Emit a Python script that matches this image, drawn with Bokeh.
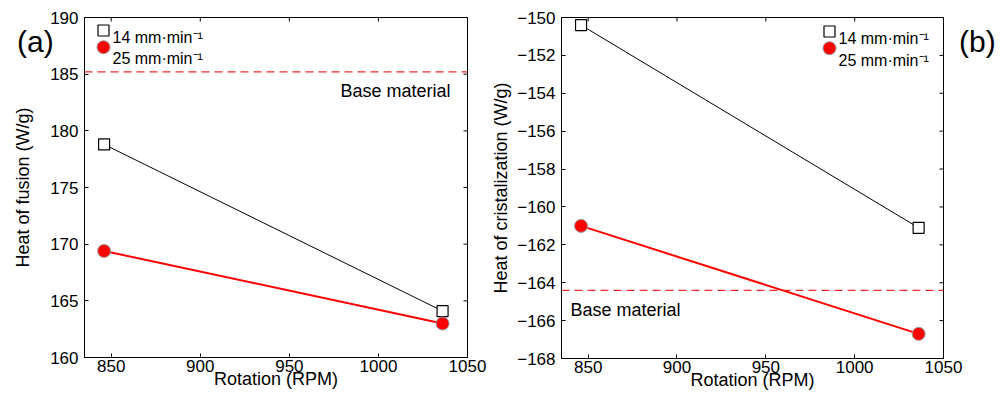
import math
from bokeh.plotting import figure
from bokeh.models import Range1d, FixedTicker, Span, Label, Div
from bokeh.layouts import row
from bokeh.embed import file_html
from bokeh.resources import INLINE

# ---------------- data ----------------
rotation = [846, 1036]
fusion_14 = [178.8, 164.1]
fusion_25 = [169.4, 163.0]
cryst_14 = [-150.4, -161.1]
cryst_25 = [-161.0, -166.7]
base_fusion = 185.2
base_cryst = -164.4
x_ticks = [850, 900, 950, 1000, 1050]
fusion_ticks = [160, 165, 170, 175, 180, 185, 190]
cryst_ticks = [-168, -166, -164, -162, -160, -158, -156, -154, -152, -150]
series_labels = ["14 mm\u00b7min\u207b\u00b9", "25 mm\u00b7min\u207b\u00b9"]

FONT = "Liberation Sans"
X0, X1 = 835, 1050


def style_axis(ax, ticks):
    ax.ticker = FixedTicker(ticks=ticks)
    ax.major_tick_in = 4
    ax.major_tick_out = 0
    ax.minor_tick_line_color = None
    ax.axis_line_color = "black"
    ax.major_tick_line_color = "black"
    ax.major_label_text_font = FONT
    ax.major_label_text_font_size = "17px"
    ax.major_label_text_color = "black"
    ax.axis_label_text_font = FONT
    ax.axis_label_text_font_size = "18px"
    ax.axis_label_text_font_style = "normal"
    ax.axis_label_text_color = "black"


def make_panel(y0, y1, yticks, d14, d25, base, ylabel, fw, fh, bl, br, bt, bb, axstand):
    p = figure(output_backend="svg", toolbar_location=None,
               x_range=Range1d(X0, X1), y_range=Range1d(y0, y1),
               frame_width=fw, frame_height=fh,
               min_border_left=bl, min_border_right=br,
               min_border_top=bt, min_border_bottom=bb)
    p.xgrid.visible = False
    p.ygrid.visible = False
    p.outline_line_color = "black"
    p.background_fill_color = "white"
    p.border_fill_color = "white"
    style_axis(p.xaxis[0], x_ticks)
    p.xaxis[0].major_label_standoff = 2
    p.xaxis[0].axis_label = "Rotation (RPM)"
    p.xaxis[0].axis_label_standoff = -6
    style_axis(p.yaxis[0], yticks)
    p.yaxis[0].major_label_standoff = 6
    p.yaxis[0].axis_label = ylabel
    p.yaxis[0].axis_label_standoff = axstand
    p.yaxis[0].major_label_overrides = {t: str(t).replace("-", "\u2212") for t in yticks}

    # inward ticks on the top and right edges of the box
    p.ray(x=x_ticks, y=[y1] * len(x_ticks), length=4, length_units="screen",
          angle=-math.pi / 2, line_color="black", line_width=1)
    p.ray(x=[X1] * len(yticks), y=yticks, length=4, length_units="screen",
          angle=math.pi, line_color="black", line_width=1)

    p.add_layout(Span(location=base, dimension="width", line_color="#ee2a2a",
                      line_dash="8 5", line_width=1.3))
    p.line(rotation, d14, line_color="black", line_width=1)
    p.line(rotation, d25, line_color="#ff0000", line_width=2)
    p.scatter(rotation, d14, marker="square", size=11, fill_color="white",
              line_color="black", line_width=1.2)
    p.scatter(rotation, d25, marker="circle", size=13, fill_color="#ff0000",
              line_color="#9a9a9a", line_width=1)
    return p


def legend(p, fw, fh, y0, y1, dx, dy_sq, dy_ci, dy_t1, dy_t2):
    xpu = fw / (X1 - X0)
    ypu = fh / (y1 - y0)
    mx = X0 + dx / xpu
    p.scatter([mx], [y1 - dy_sq / ypu], marker="square", size=11,
              fill_color="white", line_color="black", line_width=1.2)
    p.scatter([mx], [y1 - dy_ci / ypu], marker="circle", size=13,
              fill_color="#ff0000", line_color="#9a9a9a", line_width=1)
    for lab, dyt in zip(series_labels, [dy_t1, dy_t2]):
        p.add_layout(Label(x=mx, y=y1, x_offset=9, y_offset=-dyt, text=lab,
                           text_baseline="alphabetic", text_font=FONT,
                           text_font_size="16px", text_color="black"))


def panel_tag(text, left, top):
    return Div(text=text, width=50, height=40,
               styles={"position": "absolute", "left": f"{left}px",
                       "top": f"{top}px", "font-family": FONT,
                       "font-size": "30px", "line-height": "30px",
                       "color": "black"})


# ---------------- panel (a) ----------------
pa = make_panel(160, 190, fusion_ticks, fusion_14, fusion_25, base_fusion,
                "Heat of fusion (W/g)", 383, 340, 84, 20, 16, 37, 14)
legend(pa, 383, 340, 160, 190, 19, 13, 29.7, 20, 41)
pa.add_layout(Label(x=X1, y=base_fusion, x_offset=-17, y_offset=-19,
                    text="Base material", text_align="right",
                    text_baseline="alphabetic", text_font=FONT,
                    text_font_size="18px", text_color="black"))

# ---------------- panel (b) ----------------
pb = make_panel(-168, -150, cryst_ticks, cryst_14, cryst_25, base_cryst,
                "Heat of cristalization (W/g)", 382, 341, 74, 55, 17, 35, 3)
legend(pb, 382, 341, -168, -150, 268, 14, 30.7, 21, 43)
pb.add_layout(Label(x=X0, y=base_cryst, x_offset=9, y_offset=-20,
                    text="Base material", text_align="left",
                    text_baseline="alphabetic", text_font=FONT,
                    text_font_size="18px", text_color="black"))

layout = row(pa, pb, panel_tag("(a)", 12, 22), panel_tag("(b)", 954, 22))
open("out.html", "w").write(file_html(layout, INLINE))
